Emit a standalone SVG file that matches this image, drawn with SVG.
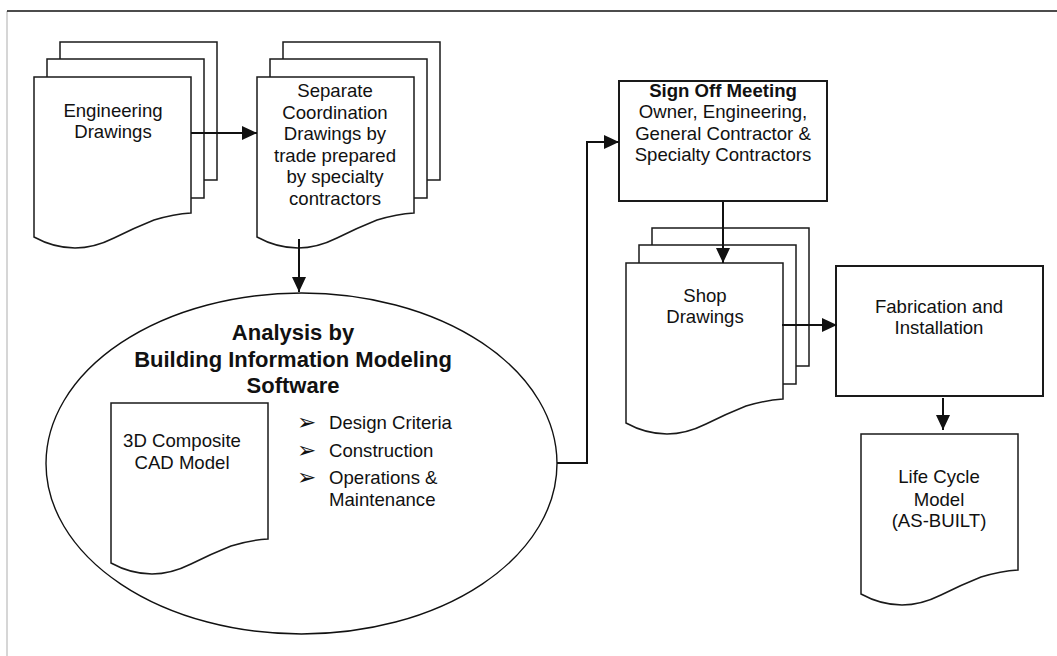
<svg xmlns="http://www.w3.org/2000/svg" xmlns:xlink="http://www.w3.org/1999/xlink" width="1057" height="656" viewBox="0 0 1057 656">
  <style>
    text { font-family: "Liberation Sans", Arial, sans-serif; fill: #111; }
    .lbl { font-size: 18.6px; text-anchor: middle; }
    .ttl { font-size: 22px; font-weight: bold; text-anchor: middle; }
    .bold { font-weight: bold; }
    .item { font-size: 18.6px; }
    .bul { font-family: "DejaVu Sans", sans-serif; font-size: 23px; }
    .page { fill: #fff; stroke: #1a1a1a; stroke-width: 1.5; }
    .box { fill: #fff; stroke: #1a1a1a; stroke-width: 2; }
    .oval { fill: #fff; stroke: #111; stroke-width: 1.4; }
    .wire { fill: none; stroke: #111; stroke-width: 2; }
  </style>
  <defs>
    <marker id="tip" markerUnits="userSpaceOnUse" markerWidth="15" markerHeight="14" viewBox="0 0 15 14" refX="15" refY="7" orient="auto">
      <path d="M0,0 L15,7 L0,14 Z" fill="#111"/>
    </marker>
    <!-- single document page with wavy bottom edge -->
    <path id="doc" class="page" d="M0,0 H157 V136 Q140,137 120,143 Q100,151 80,161 Q60,171 41,171 Q20,171 0,160 Z"/>
    <!-- rear sheets of a multi-document stack -->
    <g id="stack">
      <rect class="page" x="26" y="-35" width="157" height="138"/>
      <rect class="page" x="13" y="-18" width="157" height="139"/>
      <use xlink:href="#doc"/>
    </g>
  </defs>

  <rect width="1057" height="656" fill="#fff"/>
  <!-- page frame -->
  <line x1="7" y1="11" x2="7" y2="656" stroke="#c8c8c8" stroke-width="1.5"/>
  <line x1="7" y1="11" x2="1057" y2="11" stroke="#111" stroke-width="1.5"/>

  <g id="analysis">
    <ellipse class="oval" cx="301.5" cy="463.5" rx="255.5" ry="170.5"/>
    <text class="ttl" x="293" y="340">Analysis by</text>
    <text class="ttl" x="293" y="367">Building Information Modeling</text>
    <text class="ttl" x="293" y="393">Software</text>
  </g>

  <g id="cad-model">
    <use xlink:href="#doc" x="111" y="403"/>
    <text class="lbl" x="182" y="447">3D Composite</text>
    <text class="lbl" x="182" y="469">CAD Model</text>
  </g>

  <g id="criteria">
    <text class="bul" x="297" y="430">➢</text>
    <text class="item" x="329" y="429">Design Criteria</text>
    <text class="bul" x="297" y="458">➢</text>
    <text class="item" x="329" y="457">Construction</text>
    <text class="bul" x="297" y="485">➢</text>
    <text class="item" x="329" y="484">Operations &amp;</text>
    <text class="item" x="329" y="506">Maintenance</text>
  </g>

  <g id="engineering-drawings">
    <use xlink:href="#stack" x="34" y="77"/>
    <text class="lbl" x="113" y="117">Engineering</text>
    <text class="lbl" x="113" y="138">Drawings</text>
  </g>

  <g id="coordination-drawings">
    <use xlink:href="#stack" x="257" y="77"/>
    <text class="lbl" x="335" y="97">Separate</text>
    <text class="lbl" x="335" y="119">Coordination</text>
    <text class="lbl" x="335" y="140">Drawings by</text>
    <text class="lbl" x="335" y="162">trade prepared</text>
    <text class="lbl" x="335" y="183">by specialty</text>
    <text class="lbl" x="335" y="205">contractors</text>
  </g>

  <g id="sign-off">
    <rect class="box" x="619" y="81" width="208" height="120"/>
    <text class="lbl bold" x="723" y="97">Sign Off Meeting</text>
    <text class="lbl" x="723" y="118">Owner, Engineering,</text>
    <text class="lbl" x="723" y="140">General Contractor &amp;</text>
    <text class="lbl" x="723" y="161">Specialty Contractors</text>
  </g>

  <g id="shop-drawings">
    <use xlink:href="#stack" x="626" y="263"/>
    <text class="lbl" x="705" y="302">Shop</text>
    <text class="lbl" x="705" y="323">Drawings</text>
  </g>

  <g id="fabrication">
    <rect class="box" x="836" y="266" width="207" height="130"/>
    <text class="lbl" x="939" y="313">Fabrication and</text>
    <text class="lbl" x="939" y="334">Installation</text>
  </g>

  <g id="life-cycle">
    <use xlink:href="#doc" x="861" y="434"/>
    <text class="lbl" x="939" y="483">Life Cycle</text>
    <text class="lbl" x="939" y="506">Model</text>
    <text class="lbl" x="939" y="527">(AS-BUILT)</text>
  </g>

  <g id="connectors">
    <line class="wire" x1="191" y1="133" x2="257" y2="133" marker-end="url(#tip)"/>
    <line class="wire" x1="299" y1="239" x2="299" y2="292" marker-end="url(#tip)"/>
    <polyline class="wire" points="557,463 587,463 587,142 619,142" marker-end="url(#tip)"/>
    <line class="wire" x1="723" y1="202" x2="723" y2="263" marker-end="url(#tip)"/>
    <line class="wire" x1="782" y1="325" x2="837" y2="325" marker-end="url(#tip)"/>
    <line class="wire" x1="943" y1="398" x2="943" y2="430" marker-end="url(#tip)"/>
  </g>
</svg>
